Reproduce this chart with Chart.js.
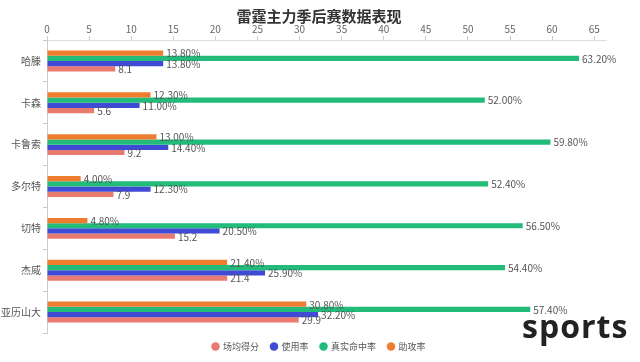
<!DOCTYPE html>
<html>
<head>
<meta charset="utf-8">
<script src="https://cdn.jsdelivr.net/npm/chart.js@4"></script>
<style>
  html, body { margin: 0; padding: 0; background: #fff; }
  #wrap { position: relative; width: 640px; height: 362px; }
  #mark { position: absolute; left: 522px; top: 310px; font-family: "Open Sans", sans-serif; font-weight: 700; font-size: 32px; letter-spacing: 1px; color: #222; line-height: 1; }
</style>
</head>
<body>
<div id="wrap">
  <canvas id="c" width="640" height="362"></canvas>
  <div id="mark">sports</div>
</div>
<script>
const players = ['哈滕', '卡森', '卡鲁索', '多尔特', '切特', '杰威', '亚历山大'];
const pointsPerGame = [8.1, 5.6, 9.2, 7.9, 15.2, 21.4, 29.9];
const usageRate = [13.8, 11.0, 14.4, 12.3, 20.5, 25.9, 32.2];
const trueShooting = [63.2, 52.0, 59.8, 52.4, 56.5, 54.4, 57.4];
const assistRate = [13.8, 12.3, 13.0, 4.0, 4.8, 21.4, 30.8];
const xTicks = [0, 5, 10, 15, 20, 25, 30, 35, 40, 45, 50, 55, 60, 65];

const FONT = "'Noto Sans CJK SC', 'Noto Sans', sans-serif";

const labelPlugin = {
  id: 'barLabels',
  afterDatasetsDraw(chart) {
    const ctx = chart.ctx;
    ctx.save();
    ctx.font = '10px ' + FONT;
    ctx.fillStyle = '#555';
    ctx.textAlign = 'left';
    ctx.textBaseline = 'middle';
    chart.data.datasets.forEach((ds, di) => {
      const meta = chart.getDatasetMeta(di);
      if (meta.hidden) return;
      meta.data.forEach((el, i) => {
        const v = ds.data[i];
        const txt = ds.pct ? v.toFixed(2) + '%' : String(v);
        ctx.fillText(txt, el.x + 3, el.y + 0.5);
      });
    });
    ctx.restore();
  }
};

const legendFitPlugin = {
  id: 'legendFit',
  beforeInit(chart) {
    const lg = chart.legend;
    if (!lg) return;
    const orig = lg.fit;
    lg.fit = function () { orig.call(this); this.height = 29; };
  },
  afterLayout(chart) {
    if (chart.legend) chart.legend.top -= 3;
  }
};

new Chart(document.getElementById('c'), {
  type: 'bar',
  data: {
    labels: players,
    datasets: [
      { label: '助攻率', data: assistRate, backgroundColor: '#ee7d30', pct: true },
      { label: '真实命中率', data: trueShooting, backgroundColor: '#22bb7a', pct: true },
      { label: '使用率', data: usageRate, backgroundColor: '#3f4bd5', pct: true },
      { label: '场均得分', data: pointsPerGame, backgroundColor: '#e97a70', pct: false }
    ]
  },
  options: {
    indexAxis: 'y',
    responsive: false,
    animation: false,
    devicePixelRatio: 1,
    layout: { padding: { left: 0, right: 2, top: 0, bottom: 0 } },
    datasets: { bar: { categoryPercentage: 0.5, barPercentage: 1.0, borderWidth: 0 } },
    scales: {
      x: {
        position: 'top',
        min: 0,
        max: 66.4,
        afterBuildTicks(scale) { scale.ticks = xTicks.map(v => ({ value: v })); },
        afterFit(scale) { scale.height = 15; },
        ticks: { color: '#666', font: { family: FONT, size: 10 }, padding: 1, maxRotation: 0 },
        grid: { drawOnChartArea: false, tickLength: 4, color: '#ccc' },
        border: { color: '#ddd' }
      },
      y: {
        afterFit(scale) { scale.width = 47; },
        ticks: { color: '#555', font: { family: FONT, size: 10 }, padding: 2 },
        grid: { offset: true, drawOnChartArea: false, tickLength: 4, color: '#ccc' },
        border: { color: '#ccc' }
      },
      yRight: {
        type: 'category',
        position: 'right',
        afterFit(scale) { scale.width = 32; },
        ticks: { display: false },
        grid: { display: false },
        border: { display: false }
      }
    },
    plugins: {
      title: {
        display: true,
        text: '雷霆主力季后赛数据表现',
        color: '#333',
        font: { family: FONT, size: 15, weight: 'bold' },
        padding: { top: 7, bottom: 0 }
      },
      legend: {
        position: 'bottom',
        reverse: true,
        labels: {
          usePointStyle: true,
          pointStyle: 'circle',
          boxWidth: 6,
          boxHeight: 6,
          padding: 12,
          color: '#555',
          font: { family: FONT, size: 9 }
        }
      },
      tooltip: { enabled: false }
    }
  },
  plugins: [labelPlugin, legendFitPlugin]
});
</script>
</body>
</html>
